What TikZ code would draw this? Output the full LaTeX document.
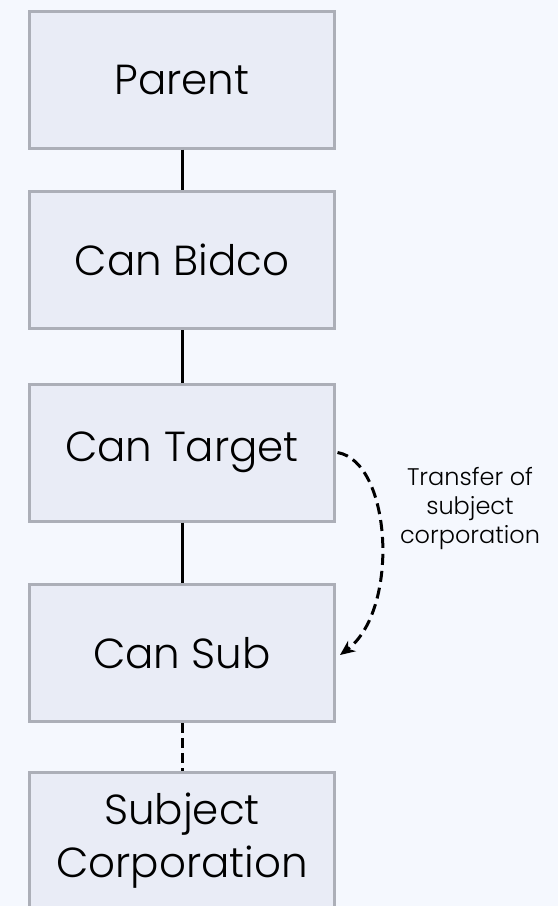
\documentclass[tikz,border=0pt]{standalone}
\usepackage{fontspec}
\setmainfont{Poppins}[UprightFont=* Light]
\usetikzlibrary{arrows.meta}
\definecolor{pagebg}{RGB}{245,248,254}
\definecolor{boxfill}{RGB}{233,236,246}
\definecolor{boxline}{RGB}{172,175,184}
\begin{document}
\begin{tikzpicture}[x=1pt,y=-1pt,
  entity/.style={draw=boxline,fill=boxfill,line width=3pt,
    minimum width=305pt,minimum height=137pt,inner sep=0pt,
    align=center,font=\fontsize{42}{53}\selectfont},
  link/.style={line width=3pt,black},
  note/.style={align=center,font=\fontsize{24}{29}\selectfont}]
  \useasboundingbox (0,0) rectangle (558,906);
  \fill[pagebg] (0,0) rectangle (558,906);
  \clip (0,0) rectangle (558,906);

  % ownership chain
  \node[entity] (parent)  at (182,79.5)  {Parent};
  \node[entity] (bidco)   at (182,260)   {Can Bidco};
  \node[entity] (target)  at (182,452.5) {Can Target};
  \node[entity] (sub)     at (182,653)   {Can Sub};
  \node[entity] (subject) at (182,841)   {Subject\\Corporation};

  \draw[link] (parent.south) -- (bidco.north);
  \draw[link] (bidco.south) -- (target.north);
  \draw[link] (target.south) -- (sub.north);
  \draw[link,dash pattern=on 10pt off 5pt] (sub.south) -- (subject.north);

  % transfer of the subject corporation down the chain
  \draw[link,dash pattern=on 11pt off 6pt,-{Stealth[length=15pt,width=13pt]}]
    ([xshift=1.5pt]target.east) .. controls (392,462) and (400,610) .. ([xshift=4pt,yshift=-2pt]sub.east);
  \node[note] (transfer) at (470,509) {Transfer of\\subject\\corporation};
\end{tikzpicture}
\end{document}
